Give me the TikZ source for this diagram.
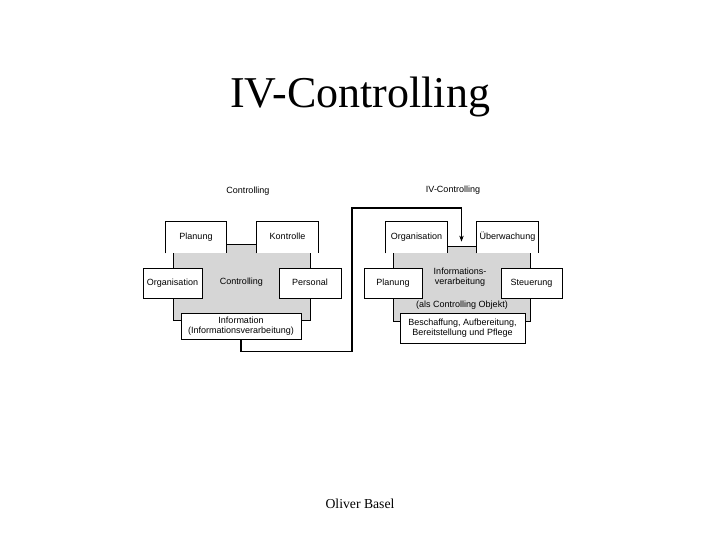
\documentclass[tikz,border=0pt]{standalone}
\usepackage{fontspec}
\setmainfont{Liberation Serif}
\setsansfont{Liberation Sans}
\usetikzlibrary{arrows.meta}
\begin{document}
\begin{tikzpicture}[x=1pt,y=-1pt,line width=.8pt,
  every node/.style={font=\sffamily\fontsize{9}{10.5}\selectfont,inner sep=0pt,align=center},
  oneline/.style={text height=6.6pt,text depth=1.9pt},
  panel/.style={fill=black!16,draw},
  box/.style={fill=white,oneline},
  fullbox/.style={fill=white,draw}]
  \path[use as bounding box] (0,0) rectangle (720,540);
  \node[font=\rmfamily\fontsize{44}{50}\selectfont] (title) at (360,97) {IV-Controlling};
  \node[font=\rmfamily\fontsize{13.7}{16}\selectfont] (author) at (360,504) {Oliver Basel};
  % left: Controlling
  \node[oneline] (capL) at (248,191) {Controlling};
  \node[panel,oneline,minimum width=137,minimum height=76] (ctrl) at (241.5,282) {Controlling};
  \node[box,minimum width=60,minimum height=31] (planL) at (196,237.5) {Planung};
  \node[box,minimum width=61,minimum height=31] (kontr) at (287.5,237.5) {Kontrolle};
  \node[fullbox,oneline,minimum width=59,minimum height=30] (orgL) at (172.5,283) {Organisation};
  \node[fullbox,oneline,minimum width=62,minimum height=30] (pers) at (310,283) {Personal};
  \node[fullbox,minimum width=120,minimum height=26] (info) at (241,326)
    {Information\\(Informationsverarbeitung)};
  % right: IV-Controlling
  \node[oneline] (capR) at (453,190) {IV-Controlling};
  \node[panel,minimum width=137,minimum height=75] (ivc) at (461.5,283.5) {};
  \node (ivtext) at (460,277) {Informations-\\verarbeitung};
  \node[oneline] (objekt) at (462,305) {(als Controlling Objekt)};
  \node[box,minimum width=61,minimum height=31] (orgR) at (416.5,237.5) {Organisation};
  \node[box,minimum width=61,minimum height=31] (ueber) at (507.5,237.5) {Überwachung};
  \node[fullbox,oneline,minimum width=58,minimum height=30] (planR) at (393,283) {Planung};
  \node[fullbox,oneline,minimum width=61,minimum height=30] (steu) at (531.5,283) {Steuerung};
  \node[fullbox,minimum width=125,minimum height=30] (besch) at (462.5,328)
    {Beschaffung, Aufbereitung,\\Bereitstellung und Pflege};
  \foreach \n in {planL,kontr,orgR,ueber}
    {\draw (\n.south west) |- (\n.north east) -- (\n.south east);}
  % connector
  \coordinate (turn) at (352,208);
  \coordinate (knick) at (ivc.north |- turn);
  \draw[line width=1.6pt] (info.south) -- ++(0,12) -| (turn) -- (knick);
  \draw[-{Stealth[length=6pt,width=4.5pt]},shorten >=4pt] (knick) -- (ivc.north);
\end{tikzpicture}
\end{document}
